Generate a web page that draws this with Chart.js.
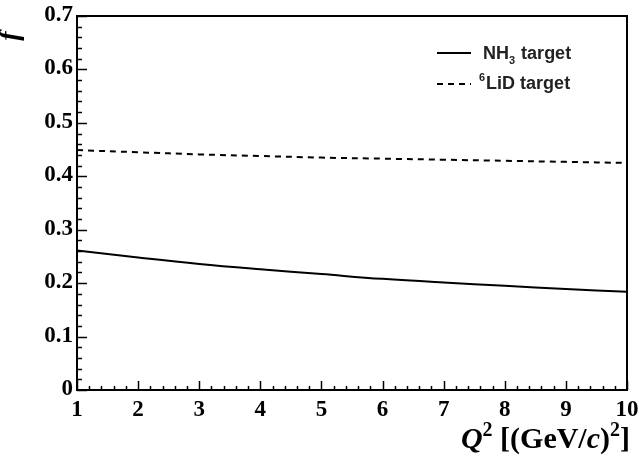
<!DOCTYPE html>
<html>
<head>
<meta charset="utf-8">
<script src="https://cdn.jsdelivr.net/npm/chart.js@4.4.1/dist/chart.umd.min.js"></script>
<style>
  html, body { margin: 0; padding: 0; background: #fff; }
  #wrap { width: 639px; height: 460px; }
</style>
</head>
<body>
<div id="wrap"><canvas id="myChart" width="639" height="460"></canvas></div>
<script>
// Q^2 sampling points and dilution factor
const q2 = [1, 2, 3, 4, 5, 6, 7, 8, 9, 10];
const nh3 = [0.261, 0.248, 0.236, 0.226, 0.217, 0.208, 0.201, 0.195, 0.189, 0.184];
const lid = [0.449, 0.445, 0.441, 0.438, 0.435, 0.433, 0.431, 0.429, 0.427, 0.425];

const xTicks = [1, 2, 3, 4, 5, 6, 7, 8, 9, 10];
const yTicks = [0, 0.1, 0.2, 0.3, 0.4, 0.5, 0.6, 0.7];
const yTickLabels = ['0', '0.1', '0.2', '0.3', '0.4', '0.5', '0.6', '0.7'];

const serif = '"Liberation Serif", "Times New Roman", serif';
const sans = '"Liberation Sans", Arial, sans-serif';

// frame, inside ticks, labels and legend drawn ROOT-style
const rootAxes = {
  id: 'rootAxes',
  afterDraw(chart) {
    const ctx = chart.ctx;
    const a = chart.chartArea;
    const xs = chart.scales.x, ys = chart.scales.y;
    ctx.save();
    ctx.strokeStyle = '#000';
    ctx.lineWidth = 2;
    ctx.strokeRect(a.left, a.top, a.right - a.left, a.bottom - a.top);

    ctx.lineWidth = 1.5;
    // y ticks
    for (let i = 0; i <= 35; i++) {
      const v = i * 0.02;
      const py = Math.round(ys.getPixelForValue(v)) + 0.5;
      const len = (i % 5 === 0) ? 10 : 5;
      ctx.beginPath(); ctx.moveTo(a.left, py); ctx.lineTo(a.left + len, py); ctx.stroke();
    }
    // x ticks
    for (let i = 0; i <= 45; i++) {
      const v = 1 + i * 0.2;
      const px = Math.round(xs.getPixelForValue(v)) + 0.5;
      const len = (i % 5 === 0) ? 9 : 4;
      ctx.beginPath(); ctx.moveTo(px, a.bottom); ctx.lineTo(px, a.bottom - len); ctx.stroke();
    }

    ctx.fillStyle = '#000';
    ctx.font = 'bold 23px ' + serif;
    ctx.textAlign = 'right';
    ctx.textBaseline = 'middle';
    yTicks.forEach((v, i) => {
      ctx.fillText(yTickLabels[i], a.left - 4, ys.getPixelForValue(v) - 1);
    });
    ctx.textAlign = 'center';
    ctx.textBaseline = 'top';
    xTicks.forEach(v => {
      ctx.fillText(String(v), xs.getPixelForValue(v), a.bottom + 9);
    });

    // x title, right aligned
    ctx.textBaseline = 'alphabetic';
    ctx.textAlign = 'left';
    const y0 = 448;
    const parts = [
      ['bold italic 30px ' + serif, 'Q', 0],
      ['bold 20px ' + serif, '2', -12],
      ['bold 30px ' + serif, ' [(GeV/', 0],
      ['bold italic 30px ' + serif, 'c', 0],
      ['bold 30px ' + serif, ')', 0],
      ['bold 20px ' + serif, '2', -12],
      ['bold 30px ' + serif, ']', 0]
    ];
    let w = 0;
    parts.forEach(p => { ctx.font = p[0]; w += ctx.measureText(p[1]).width; });
    let x = 630 - w;
    parts.forEach(p => { ctx.font = p[0]; ctx.fillText(p[1], x, y0 + p[2]); x += ctx.measureText(p[1]).width; });

    // y title
    ctx.save();
    ctx.translate(18, 36);
    ctx.rotate(-Math.PI / 2);
    ctx.font = 'bold italic 28px ' + serif;
    ctx.textAlign = 'center';
    ctx.fillText('f', 0, 0);
    ctx.restore();

    // legend
    ctx.lineWidth = 2;
    ctx.beginPath(); ctx.moveTo(437, 53); ctx.lineTo(471, 53); ctx.stroke();
    ctx.setLineDash([6, 5]);
    ctx.beginPath(); ctx.moveTo(437, 84); ctx.lineTo(471, 84); ctx.stroke();
    ctx.setLineDash([]);
    ctx.fillStyle = '#222';
    ctx.font = 'bold 18px ' + sans;
    ctx.fillText('NH', 483, 59);
    let lx = 483 + ctx.measureText('NH').width;
    ctx.font = 'bold 11px ' + sans;
    ctx.fillText('3', lx, 64);
    lx += ctx.measureText('3').width + 1;
    ctx.font = 'bold 18px ' + sans;
    ctx.fillText(' target', lx, 59);
    ctx.font = 'bold 11px ' + sans;
    ctx.fillText('6', 479, 81);
    lx = 479 + ctx.measureText('6').width + 1;
    ctx.font = 'bold 18px ' + sans;
    ctx.fillText('LiD target', lx, 89);
    ctx.restore();
  }
};

const ctx = document.getElementById('myChart').getContext('2d');
const myChart = new Chart(ctx, {
  type: 'line',
  data: {
    datasets: [
      {
        label: 'NH3 target',
        data: q2.map((q, i) => ({ x: q, y: nh3[i] })),
        borderColor: '#000',
        borderWidth: 2,
        pointRadius: 0,
        tension: 0.4,
        fill: false
      },
      {
        label: '6LiD target',
        data: q2.map((q, i) => ({ x: q, y: lid[i] })),
        borderColor: '#000',
        borderWidth: 2,
        borderDash: [6, 5],
        pointRadius: 0,
        tension: 0.4,
        fill: false
      }
    ]
  },
  options: {
    responsive: false,
    animation: false,
    layout: { padding: { left: 77, top: 16, right: 12, bottom: 70 } },
    plugins: { legend: { display: false }, tooltip: { enabled: false } },
    scales: {
      x: { type: 'linear', min: 1, max: 10, display: false },
      y: { min: 0, max: 0.7, display: false }
    }
  },
  plugins: [rootAxes]
});
</script>
</body>
</html>
